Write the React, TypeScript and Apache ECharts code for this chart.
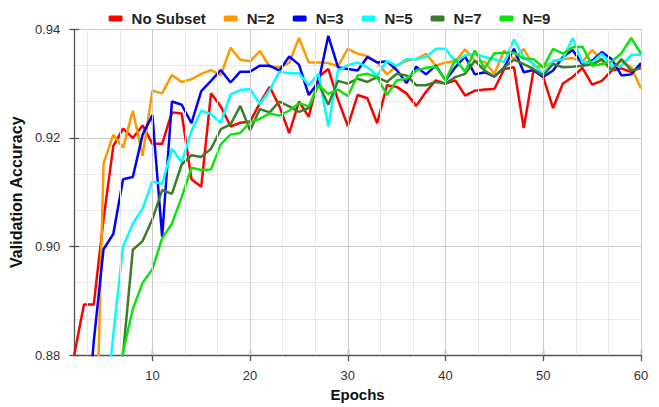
import React, { useEffect, useRef } from "react";
import * as echarts from "echarts";

const epochs: number[] = [];
for (let e = 2; e <= 60; e++) epochs.push(e);

const noSubset = [
  0.8800, 0.8893, 0.8893, 0.9050, 0.9185, 0.9217, 0.9200, 0.9223, 0.9189, 0.9189,
  0.9247, 0.9245, 0.9124, 0.9110, 0.9282, 0.9258, 0.9221, 0.9228, 0.9230, 0.9264,
  0.9294, 0.9258, 0.9209, 0.9267, 0.9239, 0.9312, 0.9327, 0.9270, 0.9222, 0.9279,
  0.9273, 0.9227, 0.9297, 0.9294, 0.9282, 0.9259, 0.9285, 0.9306, 0.9300, 0.9306,
  0.9278, 0.9287, 0.9289, 0.9290, 0.9327, 0.9330, 0.9218, 0.9324, 0.9312, 0.9255,
  0.9300, 0.9312, 0.9329, 0.9298, 0.9305, 0.9324, 0.9328, 0.9321, 0.9333,
];

const n2 = [
  0.8000, 0.8200, 0.8450, 0.9153, 0.9206, 0.9182, 0.9250, 0.9167, 0.9287, 0.9282,
  0.9316, 0.9303, 0.9308, 0.9318, 0.9325, 0.9315, 0.9366, 0.9344, 0.9341, 0.9360,
  0.9331, 0.9330, 0.9338, 0.9384, 0.9339, 0.9339, 0.9338, 0.9332, 0.9364, 0.9355,
  0.9351, 0.9339, 0.9317, 0.9333, 0.9342, 0.9345, 0.9355, 0.9333, 0.9339, 0.9341,
  0.9363, 0.9342, 0.9340, 0.9318, 0.9361, 0.9345, 0.9364, 0.9333, 0.9330, 0.9340,
  0.9345, 0.9347, 0.9340, 0.9362, 0.9342, 0.9327, 0.9342, 0.9330, 0.9291,
];

const n3 = [
  0.8500, 0.8600, 0.8825, 0.8995, 0.9023, 0.9124, 0.9128, 0.9206, 0.9242, 0.9018,
  0.9267, 0.9261, 0.9227, 0.9286, 0.9305, 0.9325, 0.9302, 0.9322, 0.9322, 0.9333,
  0.9333, 0.9324, 0.9350, 0.9335, 0.9279, 0.9303, 0.9388, 0.9330, 0.9327, 0.9324,
  0.9349, 0.9339, 0.9341, 0.9325, 0.9301, 0.9331, 0.9317, 0.9333, 0.9306, 0.9330,
  0.9350, 0.9317, 0.9321, 0.9313, 0.9330, 0.9364, 0.9321, 0.9325, 0.9312, 0.9324,
  0.9349, 0.9362, 0.9336, 0.9342, 0.9358, 0.9345, 0.9315, 0.9317, 0.9338,
];

const n5 = [
  0.8000, 0.8200, 0.8400, 0.8660, 0.8838, 0.9000, 0.9042, 0.9070, 0.9120, 0.9115,
  0.9180, 0.9155, 0.9213, 0.9250, 0.9244, 0.9228, 0.9280, 0.9288, 0.9290, 0.9262,
  0.9288, 0.9322, 0.9319, 0.9319, 0.9297, 0.9318, 0.9221, 0.9324, 0.9334, 0.9339,
  0.9330, 0.9315, 0.9342, 0.9333, 0.9345, 0.9345, 0.9349, 0.9364, 0.9364, 0.9340,
  0.9352, 0.9355, 0.9349, 0.9345, 0.9340, 0.9381, 0.9349, 0.9336, 0.9318, 0.9342,
  0.9345, 0.9384, 0.9339, 0.9339, 0.9355, 0.9333, 0.9333, 0.9353, 0.9353,
];

const n7 = [
  0.8000, 0.8200, 0.8400, 0.8500, 0.8650, 0.8802, 0.8994, 0.9010, 0.9050, 0.9104,
  0.9097, 0.9151, 0.9168, 0.9165, 0.9180, 0.9216, 0.9225, 0.9259, 0.9214, 0.9253,
  0.9247, 0.9267, 0.9258, 0.9248, 0.9255, 0.9300, 0.9261, 0.9305, 0.9300, 0.9309,
  0.9303, 0.9312, 0.9303, 0.9318, 0.9315, 0.9297, 0.9297, 0.9303, 0.9300, 0.9312,
  0.9318, 0.9342, 0.9324, 0.9313, 0.9330, 0.9344, 0.9336, 0.9327, 0.9315, 0.9336,
  0.9330, 0.9331, 0.9333, 0.9335, 0.9345, 0.9324, 0.9345, 0.9324, 0.9328,
];

const n9 = [
  0.7900, 0.8100, 0.8300, 0.8500, 0.8650, 0.8806, 0.8885, 0.8933, 0.8958, 0.9015,
  0.9042, 0.9091, 0.9145, 0.9141, 0.9142, 0.9188, 0.9206, 0.9209, 0.9229, 0.9235,
  0.9245, 0.9241, 0.9250, 0.9264, 0.9258, 0.9297, 0.9281, 0.9289, 0.9277, 0.9315,
  0.9318, 0.9312, 0.9279, 0.9306, 0.9309, 0.9324, 0.9329, 0.9331, 0.9306, 0.9345,
  0.9322, 0.9361, 0.9328, 0.9356, 0.9357, 0.9357, 0.9346, 0.9345, 0.9330, 0.9364,
  0.9355, 0.9367, 0.9368, 0.9333, 0.9336, 0.9341, 0.9356, 0.9384, 0.9355,
];

const seriesNames = ["No Subset", "N=2", "N=3", "N=5", "N=7", "N=9"];
const seriesColors = ["#ff0000", "#ff9900", "#0000ff", "#00ffff", "#3c7d2a", "#11e011"];
const seriesData = [noSubset, n2, n3, n5, n7, n9];

const xTicks = [10, 20, 30, 40, 50, 60];
const yTicks = [0.88, 0.9, 0.92, 0.94];

export default function App() {
  const ref = useRef<HTMLDivElement>(null);
  useEffect(() => {
    if (!ref.current) return;
    const chart = echarts.init(ref.current, null, { renderer: "svg" });
    const font = "'Liberation Sans', Arial, sans-serif";

    const major = xTicks.map((v) => ({ xAxis: v, lineStyle: { color: "#cccccc", width: 1, type: "solid" } }));
    const minor: any[] = [];
    [0, ...xTicks].forEach((t) => {
      [1, 2].forEach((k) => {
        const v = t + (k * 10) / 3;
        if (v > 2 && v < 60) minor.push({ xAxis: v, lineStyle: { color: "#e8e8e8", width: 1, type: "solid" } });
      });
    });

    const lineSeries = seriesNames.map((name, i) => ({
      name,
      type: "line",
      z: 3,
      showSymbol: false,
      symbol: "none",
      clip: true,
      color: seriesColors[i],
      lineStyle: { color: seriesColors[i], width: 2.5 },
      data: epochs.map((e, j) => [e, seriesData[i][j]]),
    }));

    const tickStyle = { color: "#555", width: 1.3 };

    chart.setOption({
      animation: false,
      backgroundColor: "#ffffff",
      textStyle: { fontFamily: font },
      grid: { left: 70.6, right: 18, top: 29.3, bottom: 47, containLabel: false },
      legend: {
        top: 6,
        left: "center",
        icon: "roundRect",
        itemWidth: 14,
        itemHeight: 6,
        itemGap: 18,
        data: seriesNames,
        textStyle: { fontSize: 15, fontWeight: "bold", color: "#222", fontFamily: font, padding: [0, 0, 0, 4] },
      },
      xAxis: [
        {
          type: "value",
          min: 2,
          max: 60,
          name: "Epochs",
          nameLocation: "middle",
          nameGap: 31,
          nameTextStyle: { fontSize: 15, fontWeight: "bold", color: "#111", fontFamily: font },
          axisLine: { show: true, onZero: false, lineStyle: tickStyle },
          axisTick: { show: true, length: 6, customValues: xTicks, lineStyle: tickStyle },
          axisLabel: { customValues: xTicks, fontSize: 13, color: "#333", margin: 14, fontFamily: font },
          splitLine: { show: false },
        },
        {
          type: "value",
          min: 2,
          max: 60,
          position: "bottom",
          axisLine: { show: false, onZero: false },
          axisTick: { show: true, inside: true, length: 6, customValues: xTicks, lineStyle: tickStyle },
          axisLabel: { show: false },
          splitLine: { show: false },
        },
      ],
      yAxis: [
        {
          type: "value",
          min: yTicks[0],
          max: yTicks[yTicks.length - 1],
          interval: 0.02,
          name: "Validation Accuracy",
          nameLocation: "middle",
          nameGap: 46,
          nameTextStyle: { fontSize: 16, fontWeight: "bold", color: "#111", fontFamily: font },
          axisLine: { show: true, onZero: false, lineStyle: tickStyle },
          axisTick: { show: true, length: 5, lineStyle: tickStyle },
          axisLabel: {
            fontSize: 13,
            color: "#333",
            margin: 14,
            fontFamily: font,
            formatter: (v: number) => v.toFixed(2),
          },
          splitLine: { show: true, lineStyle: { color: "#cccccc", width: 1 } },
          minorTick: { show: false, splitNumber: 3 },
          minorSplitLine: { show: true, lineStyle: { color: "#e8e8e8", width: 1 } },
        },
        {
          type: "value",
          min: yTicks[0],
          max: yTicks[yTicks.length - 1],
          interval: 0.02,
          position: "left",
          axisLine: { show: false, onZero: false },
          axisTick: { show: true, inside: true, length: 5, lineStyle: tickStyle },
          axisLabel: { show: false },
          splitLine: { show: false },
        },
      ],
      series: [
        {
          name: "__grid",
          type: "line",
          z: 1,
          data: [],
          silent: true,
          markLine: {
            silent: true,
            symbol: ["none", "none"],
            label: { show: false },
            animation: false,
            data: [...minor, ...major],
          },
        },
        ...lineSeries,
      ],
    });
    return () => chart.dispose();
  }, []);
  return (
    <div
      ref={ref}
      style={{ position: "absolute", left: 0, top: 0, width: 659, height: 407, background: "#fff" }}
    />
  );
}
